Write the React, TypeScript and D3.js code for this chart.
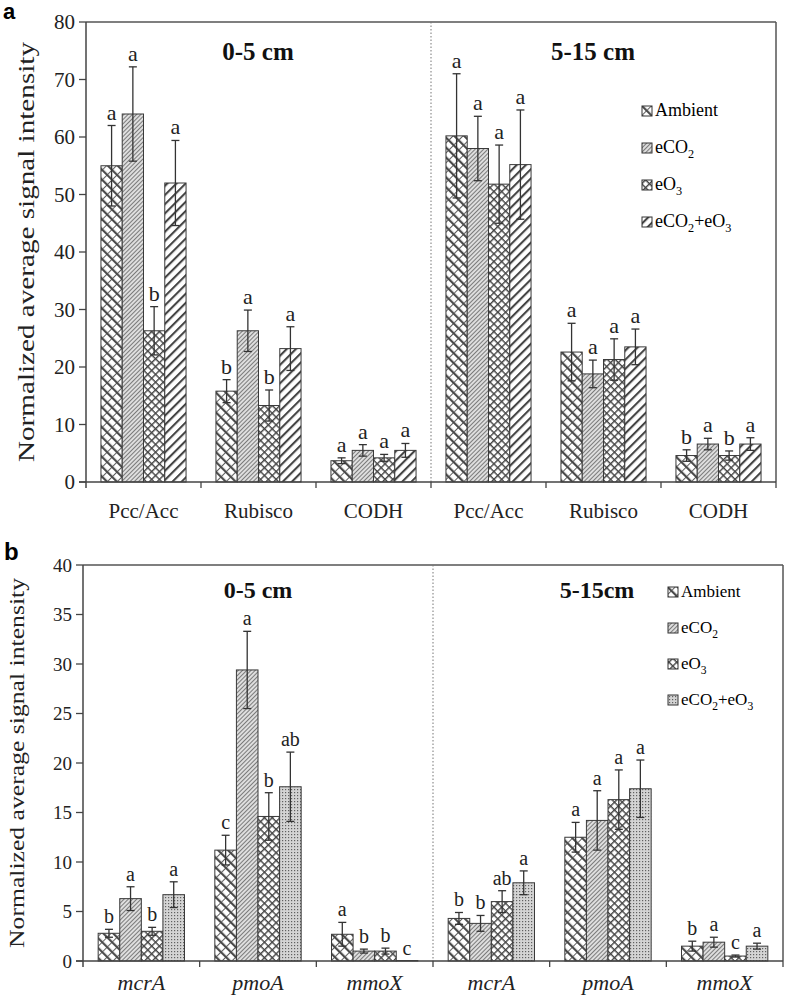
import React from "react";
import * as d3 from "d3";

const seriesNames = ["Ambient", "eCO2", "eO3", "eCO2+eO3"];

const groupsA = ["Pcc/Acc", "Rubisco", "CODH", "Pcc/Acc", "Rubisco", "CODH"];
const meansA = [
  [55, 64, 26.3, 52],
  [15.8, 26.3, 13.3, 23.2],
  [3.7, 5.5, 4.2, 5.5],
  [60.2, 58, 51.8, 55.2],
  [22.6, 18.8, 21.3, 23.5],
  [4.6, 6.6, 4.6, 6.6],
];
const errA = [
  [7, 8.2, 4.2, 7.4],
  [2, 3.6, 2.7, 3.8],
  [0.5, 1, 0.6, 1.2],
  [10.8, 5.6, 6.8, 9.5],
  [5, 2.4, 3.6, 3.1],
  [1, 1, 0.8, 1.1],
];
const lettersA = [
  ["a", "a", "b", "a"],
  ["b", "a", "b", "a"],
  ["a", "a", "a", "a"],
  ["a", "a", "a", "a"],
  ["a", "a", "a", "a"],
  ["b", "a", "b", "a"],
];
const ticksA = [0, 10, 20, 30, 40, 50, 60, 70, 80];

const groupsB = ["mcrA", "pmoA", "mmoX", "mcrA", "pmoA", "mmoX"];
const meansB = [
  [2.8, 6.3, 3.0, 6.7],
  [11.2, 29.4, 14.6, 17.6],
  [2.7, 1.0, 1.0, 0.05],
  [4.3, 3.8, 6.0, 7.9],
  [12.5, 14.2, 16.3, 17.4],
  [1.5, 1.9, 0.5, 1.5],
];
const errB = [
  [0.4, 1.2, 0.4, 1.3],
  [1.5, 3.9, 2.4, 3.5],
  [1.2, 0.2, 0.3, 0],
  [0.6, 0.8, 1.1, 1.2],
  [1.5, 3.0, 3.0, 2.9],
  [0.5, 0.5, 0.1, 0.3],
];
const lettersB = [
  ["b", "a", "b", "a"],
  ["c", "a", "b", "ab"],
  ["a", "b", "b", "c"],
  ["b", "b", "ab", "a"],
  ["a", "a", "a", "a"],
  ["b", "a", "c", "a"],
];
const ticksB = [0, 5, 10, 15, 20, 25, 30, 35, 40];

const SERIF = "'Liberation Serif', 'Times New Roman', serif";
const SANS = "'Liberation Sans', Arial, sans-serif";

function Patterns() {
  return (
    <defs>
      <pattern id="pAmb" patternUnits="userSpaceOnUse" width="7" height="7" patternTransform="rotate(-45)">
        <rect width="7" height="7" fill="#fff" />
        <rect x="0" y="0" width="2.2" height="7" fill="#4a4a4a" />
        <rect x="2.2" y="3" width="4.8" height="0.9" fill="#4a4a4a" />
      </pattern>
      <pattern id="pCO2" patternUnits="userSpaceOnUse" width="3" height="3" patternTransform="rotate(45)">
        <rect width="3" height="3" fill="#dedede" />
        <rect x="0" y="0" width="0.9" height="3" fill="#707070" />
      </pattern>
      <pattern id="pO3" patternUnits="userSpaceOnUse" width="5.5" height="5.5" patternTransform="rotate(45)">
        <rect width="5.5" height="5.5" fill="#fff" />
        <rect x="0" y="0" width="1.4" height="5.5" fill="#444" />
        <rect x="0" y="0" width="5.5" height="1.4" fill="#444" />
      </pattern>
      <pattern id="pBothA" patternUnits="userSpaceOnUse" width="6.5" height="6.5" patternTransform="rotate(45)">
        <rect width="6.5" height="6.5" fill="#fff" />
        <rect x="0" y="0" width="2.1" height="6.5" fill="#444" />
      </pattern>
      <pattern id="pBothB" patternUnits="userSpaceOnUse" width="3" height="3">
        <rect width="3" height="3" fill="#d4d4d4" />
        <rect x="0" y="0" width="1.2" height="1.2" fill="#606060" />
      </pattern>
    </defs>
  );
}

function LegendLabel({ name, x, y, size }: { name: string; x: number; y: number; size: number }) {
  const sub = size * 0.68;
  const d = size * 0.3;
  if (name === "Ambient") return <text x={x} y={y} fontSize={size} fontFamily={SERIF}>Ambient</text>;
  if (name === "eCO2")
    return (
      <text x={x} y={y} fontSize={size} fontFamily={SERIF}>
        eCO<tspan dy={d} fontSize={sub}>2</tspan>
      </text>
    );
  if (name === "eO3")
    return (
      <text x={x} y={y} fontSize={size} fontFamily={SERIF}>
        eO<tspan dy={d} fontSize={sub}>3</tspan>
      </text>
    );
  return (
    <text x={x} y={y} fontSize={size} fontFamily={SERIF}>
      eCO<tspan dy={d} fontSize={sub}>2</tspan>
      <tspan dy={-d}>+eO</tspan>
      <tspan dy={d} fontSize={sub}>3</tspan>
    </text>
  );
}

type PanelProps = {
  label: string;
  x0: number;
  x1: number;
  yTop: number;
  yBot: number;
  max: number;
  ticks: number[];
  groups: string[];
  means: number[][];
  errs: number[][];
  letters: string[][];
  fills: string[];
  italic: boolean;
  titles: [string, string];
  titleX: [number, number];
  titleY: number;
  titleSize: number;
  tickSize: number;
  catSize: number;
  catY: number;
  letterSize: number;
  yTitleSize: number;
  yTitleLen: number;
  yTitleX: number;
  labelX: number;
  labelY: number;
  labelSize: number;
  legX: number;
  legY0: number;
  legStep: number;
  legSize: number;
};

function Panel(p: PanelProps) {
  const y = d3.scaleLinear().domain([0, p.max]).range([p.yBot, p.yTop]);
  const gx = d3.scaleBand<number>().domain(d3.range(p.groups.length)).range([p.x0, p.x1]).padding(0);
  const bw = gx.bandwidth();
  const sx = d3
    .scaleBand<number>()
    .domain(d3.range(seriesNames.length))
    .range([bw * 0.13, bw * 0.87])
    .padding(0);
  const mid = (p.x0 + p.x1) / 2;
  const ink = "#3a3a3a";
  return (
    <g>
      <text x={p.labelX} y={p.labelY} fontFamily={SANS} fontWeight="bold" fontSize={p.labelSize}>
        {p.label}
      </text>
      <text
        transform={`translate(${p.yTitleX},${(p.yTop + p.yBot) / 2}) rotate(-90)`}
        textAnchor="middle"
        fontFamily={SERIF}
        fontSize={p.yTitleSize}
        textLength={p.yTitleLen}
        lengthAdjust="spacingAndGlyphs"
        fill="#222"
      >
        Normalized average signal intensity
      </text>
      {p.means.map((row, gi) =>
        row.map((v, si) => {
          const bx = (gx(gi) as number) + (sx(si) as number);
          const w = sx.bandwidth();
          return (
            <rect
              key={`b${gi}-${si}`}
              x={bx}
              y={y(v)}
              width={w}
              height={p.yBot - y(v)}
              fill={`url(#${p.fills[si]})`}
              stroke={ink}
              strokeWidth={1}
            />
          );
        })
      )}
      {p.means.map((row, gi) =>
        row.map((v, si) => {
          const cx = (gx(gi) as number) + (sx(si) as number) + sx.bandwidth() / 2;
          const e = p.errs[gi][si];
          const yt = y(v + e);
          const yb = y(Math.max(0, v - e));
          return (
            <g key={`e${gi}-${si}`}>
              {e > 0 && (
                <g stroke="#333" strokeWidth={1.3}>
                  <line x1={cx} x2={cx} y1={yt} y2={yb} />
                  <line x1={cx - 4} x2={cx + 4} y1={yt} y2={yt} />
                  <line x1={cx - 4} x2={cx + 4} y1={yb} y2={yb} />
                </g>
              )}
              <text
                x={cx}
                y={yt - 6}
                textAnchor="middle"
                fontFamily={SERIF}
                fontSize={p.letterSize}
                fill="#222"
              >
                {p.letters[gi][si]}
              </text>
            </g>
          );
        })
      )}
      <line x1={p.x0} x2={p.x1} y1={p.yTop} y2={p.yTop} stroke="#555" strokeWidth={1.5} />
      <line x1={p.x1} x2={p.x1} y1={p.yTop} y2={p.yBot} stroke="#555" strokeWidth={1.5} />
      <line x1={mid} x2={mid} y1={p.yTop} y2={p.yBot} stroke="#777" strokeWidth={1} strokeDasharray="1.5,2" />
      <line x1={p.x0} x2={p.x0} y1={p.yTop} y2={p.yBot + 6} stroke="#444" strokeWidth={1.5} />
      {p.ticks.map((t) => (
        <g key={`t${t}`}>
          <line x1={p.x0 - 7} x2={p.x0} y1={y(t)} y2={y(t)} stroke="#444" strokeWidth={1.3} />
          <text
            x={p.x0 - 11}
            y={y(t)}
            dy="0.35em"
            textAnchor="end"
            fontFamily={SERIF}
            fontSize={p.tickSize}
            fill="#222"
          >
            {t}
          </text>
        </g>
      ))}
      <line x1={p.x0 - 7} x2={p.x1} y1={p.yBot} y2={p.yBot} stroke="#444" strokeWidth={1.5} />
      {d3.range(1, p.groups.length + 1).map((i) => {
        const xx = i === p.groups.length ? p.x1 : (gx(i) as number);
        return <line key={`xt${i}`} x1={xx} x2={xx} y1={p.yBot} y2={p.yBot + 6} stroke="#444" strokeWidth={1.3} />;
      })}
      {p.groups.map((g, gi) => (
        <text
          key={`c${gi}`}
          x={(gx(gi) as number) + bw / 2}
          y={p.catY}
          textAnchor="middle"
          fontFamily={SERIF}
          fontStyle={p.italic ? "italic" : "normal"}
          fontSize={p.catSize}
          fill="#222"
        >
          {g}
        </text>
      ))}
      {p.titles.map((t, i) => (
        <text
          key={`ti${i}`}
          x={p.titleX[i]}
          y={p.titleY}
          textAnchor="middle"
          fontFamily={SERIF}
          fontWeight="bold"
          fontSize={p.titleSize}
          fill="#111"
        >
          {t}
        </text>
      ))}
      {seriesNames.map((n, i) => {
        const ly = p.legY0 + i * p.legStep;
        return (
          <g key={`l${i}`}>
            <rect
              x={p.legX}
              y={ly - 10}
              width={10}
              height={10}
              fill={`url(#${p.fills[i]})`}
              stroke="#333"
              strokeWidth={1}
            />
            <LegendLabel name={n} x={p.legX + 13} y={ly} size={p.legSize} />
          </g>
        );
      })}
    </g>
  );
}

export default function App() {
  return (
    <svg
      width={789}
      height={998}
      style={{ position: "absolute", left: 0, top: 0, background: "#fff" }}
    >
      <Patterns />
      <rect width={789} height={998} fill="#fff" />
      <Panel
        label="a"
        x0={86}
        x1={776}
        yTop={22}
        yBot={482}
        max={80}
        ticks={ticksA}
        groups={groupsA}
        means={meansA}
        errs={errA}
        letters={lettersA}
        fills={["pAmb", "pCO2", "pO3", "pBothA"]}
        italic={false}
        titles={["0-5 cm", "5-15 cm"]}
        titleX={[258, 593]}
        titleY={60}
        titleSize={25}
        tickSize={21}
        catSize={21}
        catY={518}
        letterSize={22}
        yTitleSize={24}
        yTitleLen={420}
        yTitleX={34}
        labelX={3}
        labelY={19}
        labelSize={22}
        legX={642}
        legY0={116}
        legStep={37}
        legSize={18}
      />
      <Panel
        label="b"
        x0={83}
        x1={783}
        yTop={565}
        yBot={961}
        max={40}
        ticks={ticksB}
        groups={groupsB}
        means={meansB}
        errs={errB}
        letters={lettersB}
        fills={["pAmb", "pCO2", "pO3", "pBothB"]}
        italic={true}
        titles={["0-5 cm", "5-15cm"]}
        titleX={[258, 597]}
        titleY={598}
        titleSize={24}
        tickSize={19}
        catSize={22}
        catY={990}
        letterSize={20}
        yTitleSize={20}
        yTitleLen={370}
        yTitleX={24}
        labelX={4}
        labelY={560}
        labelSize={24}
        legX={668}
        legY0={597}
        legStep={36}
        legSize={17}
      />
    </svg>
  );
}
